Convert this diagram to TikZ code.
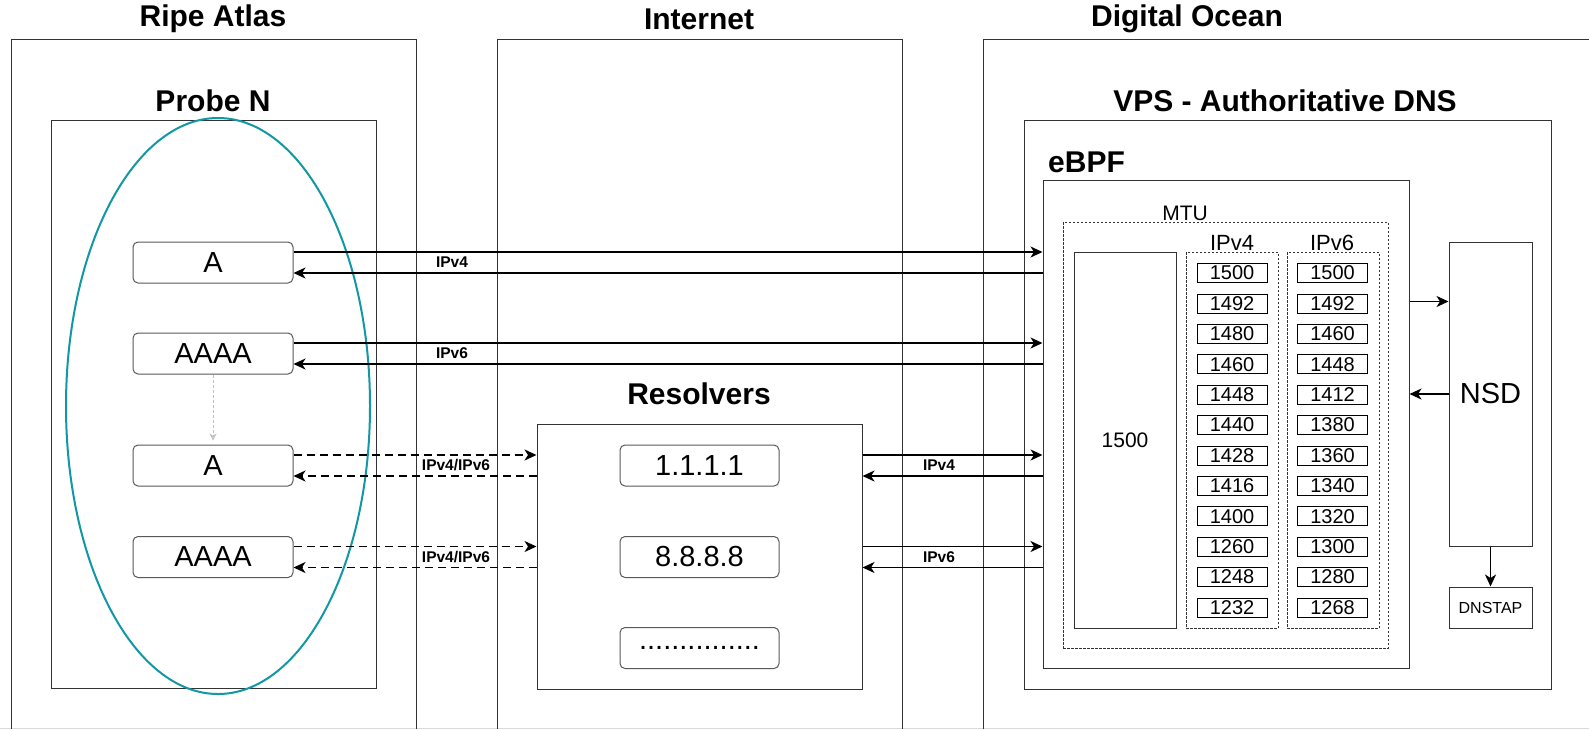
\documentclass[tikz,border=0pt]{standalone}
\usepackage{fontspec}
\setmainfont{Liberation Sans}
\usetikzlibrary{arrows.meta}
\definecolor{probeteal}{RGB}{18,152,164}

\tikzset{
  box/.style={draw=black!80, line width=1pt},
  title/.style={font=\fontsize{30}{36}\selectfont\bfseries, inner sep=0pt},
  query/.style={draw=black!65, line width=1pt, rounded corners=5pt, minimum width=160pt, minimum height=41pt, inner sep=0pt, font=\fontsize{29}{34}\selectfont},
  frame/.style={draw=black!80, line width=1pt, inner sep=0pt},
  dotbox/.style={draw=black!80, line width=0.8pt, dash pattern=on 2.5pt off 1.5pt, inner sep=0pt},
  cell/.style={draw, line width=0.8pt, minimum width=70pt, minimum height=19pt, inner sep=0pt, font=\fontsize{20}{24}\selectfont},
  lbl/.style={font=\fontsize{15.5}{18}\selectfont\bfseries, inner sep=1pt},
  flow/.style={-{Stealth[length=12pt,width=11pt,inset=3.5pt]}, line width=1.7pt},
  dflow/.style={flow, dash pattern=on 8pt off 5pt},
  hint/.style={-{Stealth[open,length=7pt,width=7pt]}, black!25, line width=1pt, dash pattern=on 3pt off 2pt}
}

\begin{document}
\begin{tikzpicture}[x=1pt,y=-1pt]
\useasboundingbox (0,0) rectangle (1589,729);
\fill[white] (0,0) rectangle (1589,729);
\draw[black!15, line width=1pt] (0,728.5) -- (1589,728.5);

\draw[box] (11,729) |- (416,39) -- (416,729);
\draw[box] (497,729) |- (902,39) -- (902,729);
\draw[box] (983,729) |- (1589,39);

\node[title] (ripe) at (213,19) {Ripe Atlas};
\node[title] (inet) at (699,19) {Internet};
\node[title] (ocean) at (1187,19) {Digital Ocean};

% probe
\node[title] (probet) at (213,101) {Probe N};
\node[frame, minimum width=325pt, minimum height=568pt] (probe) at (213.5,404) {};
\node[query] (qa1) at (213,262.5) {A};
\node[query] (qaaaa1) at (213,353.5) {AAAA};
\node[query] (qa2) at (213,465.5) {A};
\node[query] (qaaaa2) at (213,557) {AAAA};
\draw[hint, shorten >=4pt] (qaaaa1.south) -- (qa2.north);
\draw[probeteal, line width=2pt] (218,406) ellipse [x radius=152pt, y radius=288pt];

% resolvers
\node[title] (rest) at (699,394) {Resolvers};
\node[frame, minimum width=325pt, minimum height=265pt] (res) at (699.5,556.5) {};
\node[query, minimum width=159pt] (r1) at (699.5,465.5) {1.1.1.1};
\node[query, minimum width=159pt] (r2) at (699.5,557) {8.8.8.8};
\node[query, minimum width=159pt] (r3) at (699.5,648) {...............};

% vps
\node[title] (vpst) at (1285,101) {VPS - Authoritative DNS};
\node[frame, minimum width=527pt, minimum height=569pt] (vps) at (1287.5,404.5) {};
\node[title, anchor=west] (ebpft) at (1048,162) {eBPF};
\node[frame, minimum width=366pt, minimum height=488pt] (ebpf) at (1226,424) {};
\node[dotbox, minimum width=325pt, minimum height=426pt] (mtu) at (1225.5,435) {};
\node[font=\fontsize{21}{25}\selectfont, inner sep=0pt] (mtut) at (1185,213) {MTU};
\node[frame, minimum width=102pt, minimum height=376pt, font=\fontsize{21}{25}\selectfont] (base) at (1125,440) {1500};
\node[dotbox, minimum width=92pt, minimum height=376pt] (v4) at (1232,440) {};
\node[dotbox, minimum width=92pt, minimum height=376pt] (v6) at (1333,440) {};
\node[font=\fontsize{22}{26}\selectfont, inner sep=0pt] (v4t) at (1232,243) {IPv4};
\node[font=\fontsize{22}{26}\selectfont, inner sep=0pt] (v6t) at (1332,243) {IPv6};
\foreach \v [count=\i] in {1500,1492,1480,1460,1448,1440,1428,1416,1400,1260,1248,1232}
  \node[cell] (c4-\i) at (1232,{273+30.4*(\i-1)}) {\v};
\foreach \v [count=\i] in {1500,1492,1460,1448,1412,1380,1360,1340,1320,1300,1280,1268}
  \node[cell] (c6-\i) at (1332.5,{273+30.4*(\i-1)}) {\v};
\node[frame, minimum width=83pt, minimum height=304pt, font=\fontsize{29}{34}\selectfont] (nsd) at (1490.5,394) {NSD};
\node[frame, minimum width=83pt, minimum height=41pt, font=\fontsize{16}{19}\selectfont] (dnstap) at (1490.5,607.5) {DNSTAP};

% direct queries
\draw[flow] ([yshift=10.5pt]qa1.east) -- ([yshift=10.5pt]qa1.east -| ebpf.west);
\draw[flow] ([yshift=-10.5pt]qa1.east -| ebpf.west) -- ([yshift=-10.5pt]qa1.east);
\draw[flow] ([yshift=10.5pt]qaaaa1.east) -- ([yshift=10.5pt]qaaaa1.east -| ebpf.west);
\draw[flow] ([yshift=-10.5pt]qaaaa1.east -| ebpf.west) -- ([yshift=-10.5pt]qaaaa1.east);
\node[lbl] (l1) at (452,262.5) {IPv4};
\node[lbl] (l2) at (452,353.5) {IPv6};

% via resolvers
\draw[dflow] ([yshift=10.5pt]qa2.east) -- ([yshift=10.5pt]qa2.east -| res.west);
\draw[dflow] ([yshift=-10.5pt]qa2.east -| res.west) -- ([yshift=-10.5pt]qa2.east);
\draw[dflow] ([yshift=10.5pt]qaaaa2.east) -- ([yshift=10.5pt]qaaaa2.east -| res.west);
\draw[dflow] ([yshift=-10.5pt]qaaaa2.east -| res.west) -- ([yshift=-10.5pt]qaaaa2.east);
\node[lbl] (l3) at (456,465.5) {IPv4/IPv6};
\node[lbl] (l4) at (456,557) {IPv4/IPv6};

\draw[flow] ([yshift=10.5pt]r1.center -| res.east) -- ([yshift=10.5pt]r1.center -| ebpf.west);
\draw[flow] ([yshift=-10.5pt]r1.center -| ebpf.west) -- ([yshift=-10.5pt]r1.center -| res.east);
\draw[flow] ([yshift=10.5pt]r2.center -| res.east) -- ([yshift=10.5pt]r2.center -| ebpf.west);
\draw[flow] ([yshift=-10.5pt]r2.center -| ebpf.west) -- ([yshift=-10.5pt]r2.center -| res.east);
\node[lbl] (l5) at (939,465.5) {IPv4};
\node[lbl] (l6) at (939,557) {IPv6};

% nsd
\draw[flow] ([yshift=-60pt]nsd.north west -| ebpf.east) -- ([yshift=-60pt]nsd.north west);
\draw[flow] (nsd.west) -- (nsd.west -| ebpf.east);
\draw[flow] (nsd.south) -- (dnstap.north);
\end{tikzpicture}
\end{document}
